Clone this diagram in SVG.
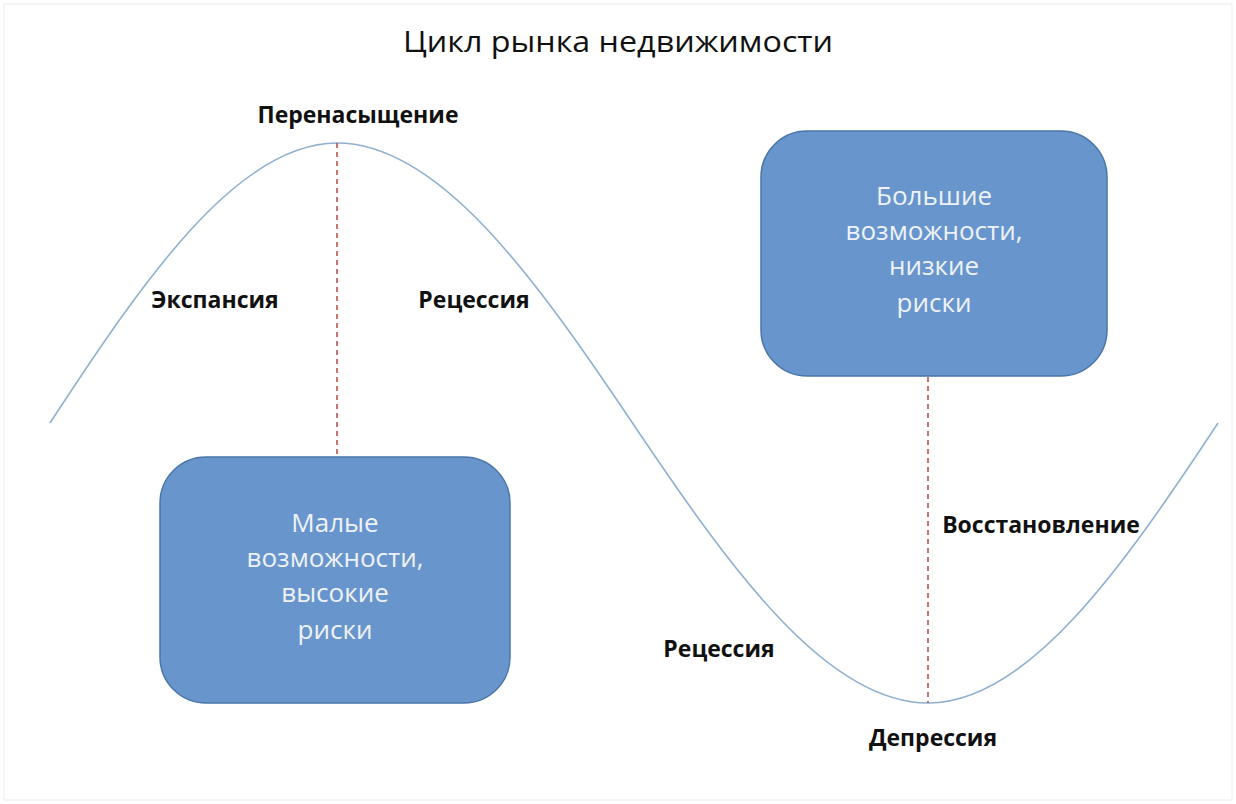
<svg xmlns="http://www.w3.org/2000/svg" width="1236" height="804" viewBox="0 0 1236 804">
<style>
.lbl{font-family:"Open Sans","Noto Sans",sans-serif;font-weight:bold;font-size:23px;fill:#111;text-anchor:middle}
.box{fill:#6896cc;stroke:#4a76a8;stroke-width:1.5}
.bt{font-family:"Open Sans","Noto Sans",sans-serif;font-size:26px;fill:#eef2f8;text-anchor:middle}
.dash{stroke:#c0504d;stroke-width:1.6;stroke-dasharray:5,4;fill:none}
.curve{stroke:#8fb0d0;stroke-width:1.6;fill:none}
</style>
<rect x="0" y="0" width="1236" height="804" fill="#ffffff"/>
<rect x="4" y="4" width="1228" height="796" fill="none" stroke="#ececec" stroke-width="1"/>
<text x="618" y="52" font-family="Open Sans, Noto Sans, sans-serif" font-size="30" fill="#111" text-anchor="middle" textLength="430" lengthAdjust="spacingAndGlyphs">Цикл рынка недвижимости</text>
<g id="connectors">
<path class="curve" d="M50,423 C143.6,279.6 237.5,143 337,143 C439.5,143 536.1,279.6 632.5,423 C728.9,566.4 825.5,703 928,703 C1028.5,703 1123.4,566.4 1218,423"/>
<line class="dash" x1="337" y1="143" x2="337" y2="457"/>
<line class="dash" x1="928" y1="377" x2="928" y2="703"/>
</g>
<g id="box-left">
<rect class="box" x="160" y="457" width="350" height="246" rx="46"/>
<text class="bt" x="335" y="532">Малые</text>
<text class="bt" x="335" y="567">возможности,</text>
<text class="bt" x="335" y="602">высокие</text>
<text class="bt" x="335" y="639">риски</text>
</g>
<g id="box-right">
<rect class="box" x="761" y="131" width="346" height="245" rx="46"/>
<text class="bt" x="934" y="205">Большие</text>
<text class="bt" x="934" y="240">возможности,</text>
<text class="bt" x="934" y="275">низкие</text>
<text class="bt" x="934" y="312">риски</text>
</g>
<g id="label-peak"><text class="lbl" x="358" y="123">Перенасыщение</text></g>
<g id="label-expansion"><text class="lbl" x="215" y="308">Экспансия</text></g>
<g id="label-recession1"><text class="lbl" x="474" y="308">Рецессия</text></g>
<g id="label-recovery"><text class="lbl" x="1041" y="533">Восстановление</text></g>
<g id="label-recession2"><text class="lbl" x="719" y="657">Рецессия</text></g>
<g id="label-depression"><text class="lbl" x="933" y="746">Депрессия</text></g>
</svg>
